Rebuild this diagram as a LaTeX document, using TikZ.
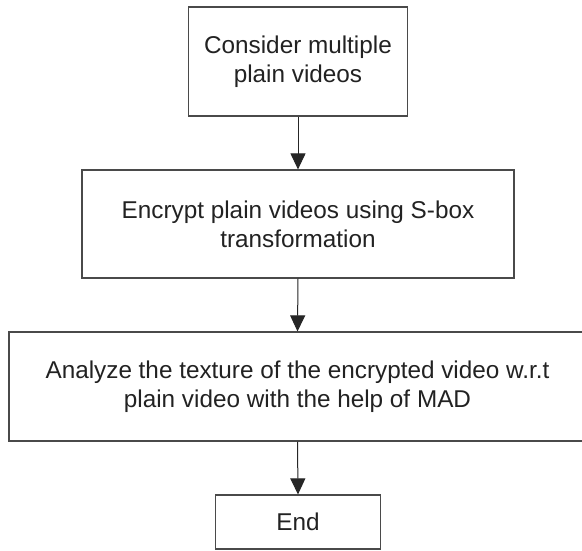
\documentclass[tikz,border=0pt]{standalone}
\usepackage{fontspec}
\setmainfont{Liberation Sans}
\usetikzlibrary{arrows.meta}
\definecolor{edgegray}{HTML}{4A4A4A}
\definecolor{textgray}{HTML}{222222}
\tikzset{
  stepbox/.style={draw=edgegray, line width=1.2pt, fill=white, inner sep=0pt,
    align=center, text=textgray, font=\fontsize{24.3}{29}\selectfont},
  flow/.style={draw=black!85, line width=1pt,
    -{Triangle[length=16pt,width=15pt]}}
}
\begin{document}
\begin{tikzpicture}[x=1pt,y=-1pt]
  \clip (0,0) rectangle (582,550);
  \fill[white] (0,0) rectangle (582,550);

  \node[stepbox, minimum width=219pt, minimum height=109pt] (consider) at (298,61.5)
    {Consider multiple\\plain videos};
  \node[stepbox, minimum width=432pt, minimum height=108pt] (encrypt) at (298,224)
    {Encrypt plain videos using S-box\\transformation};
  \node[stepbox, minimum width=577pt, minimum height=109pt] (analyze) at (297.5,386.5)
    {Analyze the texture of the encrypted video w.r.t\\plain video with the help of MAD};
  \node[stepbox, minimum width=165pt, minimum height=54pt] (end) at (298,522)
    {End};

  \draw[flow] (consider.south) -- (encrypt.north);
  \draw[flow] (encrypt.south) -- (analyze.north);
  \draw[flow] (analyze.south) -- (end.north);
\end{tikzpicture}
\end{document}
